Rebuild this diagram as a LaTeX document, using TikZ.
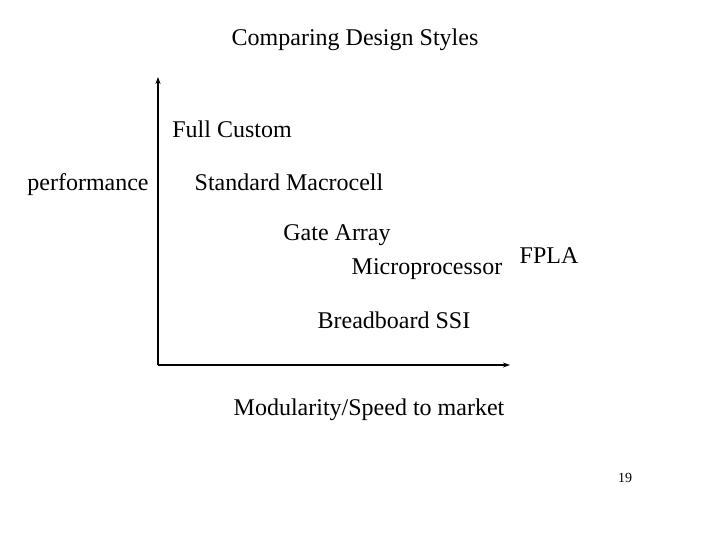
\documentclass[tikz,border=0pt]{standalone}
\usepackage{fontspec}
\usetikzlibrary{arrows.meta}
\setmainfont{Liberation Serif}
\begin{document}
\begin{tikzpicture}[x=1pt,y=-1pt,
  lbl/.style={inner sep=0pt,font=\fontsize{24}{26}\selectfont},
  axis/.style={line width=1.3pt,-{Stealth[length=7pt,width=5pt]}}]
\useasboundingbox (0,0) rectangle (720,540);
\node[lbl] (title) at (355,40) {Comparing Design Styles};
\node[lbl] (fc) at (232,129) {Full Custom};
\node[lbl] (perf) at (88,185) {performance};
\node[lbl] (sm) at (289,182) {Standard Macrocell};
\node[lbl] (ga) at (337,235) {Gate Array};
\node[lbl] (mp) at (427,269) {Microprocessor};
\node[lbl] (fpla) at (549,256) {FPLA};
\node[lbl] (bb) at (394,320) {Breadboard SSI};
\node[lbl] (mod) at (369,410) {Modularity/Speed to market};
\node[inner sep=0pt,font=\fontsize{14}{16}\selectfont] (pg) at (625,478) {19};
\coordinate (o) at (158,365);
\coordinate (top) at (158,77);
\coordinate (right) at (510,365);
\draw[axis] (o) -- (top);
\draw[axis] (o) -- (right);
\end{tikzpicture}
\end{document}
